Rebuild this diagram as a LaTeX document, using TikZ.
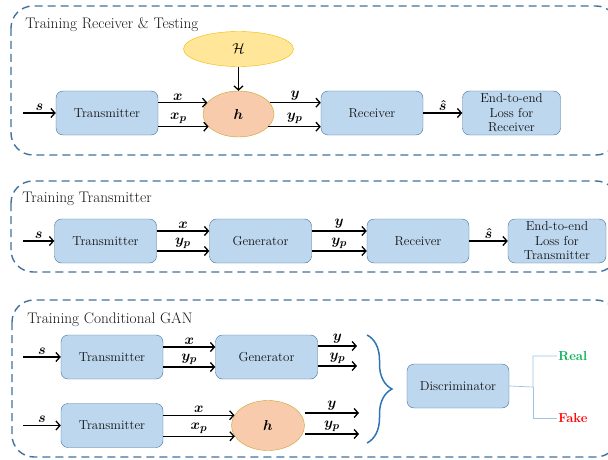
\documentclass[tikz,border=0pt]{standalone}
\usepackage{tikz}
\usetikzlibrary{shapes, arrows, arrows.meta, positioning, decorations.pathreplacing}
\usepackage{amsmath}
\usepackage{bm}

\definecolor{boxfill}{HTML}{BDD7EE}
\definecolor{boxedge}{HTML}{41719C}
\definecolor{boxtext}{HTML}{141414}
\definecolor{hfill}{HTML}{F8CBAD}
\definecolor{hedge}{HTML}{C9A227}
\definecolor{Hfill}{HTML}{FFE699}
\definecolor{Hedge}{HTML}{F2B800}
\definecolor{stageblue}{HTML}{41719C}
\definecolor{braceblue}{HTML}{2E75B6}
\definecolor{branchblue}{HTML}{9DC3E6}
\definecolor{realgreen}{HTML}{00B050}
\definecolor{fakered}{HTML}{FF0000}

\begin{document}
\begin{tikzpicture}[x=1pt, y=-1pt, auto, thick,
    block/.style={draw=boxedge, fill=boxfill, thin, rounded corners=7pt, minimum width=102pt,
        minimum height=44pt, align=center, text=boxtext, inner sep=1pt, font=\fontsize{13}{14.5}\selectfont},
    chan/.style={draw=hedge, fill=hfill, thin, ellipse, minimum width=71pt, minimum height=46pt,
        font=\fontsize{15}{17}\selectfont},
    stage/.style={draw=stageblue, line width=1.4pt, dash pattern=on 8pt off 5pt, rounded corners=22pt},
    stagetitle/.style={anchor=base west, inner sep=0pt, text=boxtext, font=\fontsize{15.3}{18}\selectfont},
    link/.style={->, >={Straight Barb[length=4pt, width=9pt]}, line width=1.3pt},
    lbl/.style={font=\fontsize{15}{17}\selectfont, inner sep=2pt},
    branch/.style={draw=branchblue, line width=0.7pt}]

    \useasboundingbox (0,0) rectangle (608,460);

    % frames
    \draw[stage] (11,6) rectangle (618,155);
    \draw[stage] (11,181) rectangle (618,272);
    \draw[stage] (12,300) rectangle (618,457);
    \node (title1) at (25,29) [stagetitle] {Training Receiver \& Testing};
    \node (title2) at (22,202) [stagetitle] {Training Transmitter};
    \node (title3) at (27,323) [stagetitle] {Training Conditional GAN};

    % receiver & testing
    \node (tx1) at (107,113) [block] {Transmitter};
    \node (h1) [chan, right of=tx1, node distance=131.5pt, yshift=-1pt] {$\boldsymbol{h}$};
    \node (H1) [chan, draw=Hedge, fill=Hfill, above of=h1, node distance=65pt,
        minimum width=110pt, minimum height=35pt] {$\mathcal{H}$};
    \node (rx1) [block, right of=tx1, node distance=265pt] {Receiver};
    \node (end1) [block, right of=rx1, node distance=139.5pt, minimum width=98pt] {End-to-end\\Loss for\\Receiver};
    \coordinate (in1) at (23,113);

    \draw[link] (in1) -- node[above, lbl] {$\boldsymbol{s}$} (tx1);
    \draw[link] (H1) -- (h1);
    \draw[link] (tx1.east |- h1.160) -- node[above, lbl, pos=0.4] {$\boldsymbol{x}$} (h1.160);
    \draw[link] (tx1.east |- h1.203) -- node[above, lbl, pos=0.4] {$\boldsymbol{x_p}$} (h1.203);
    \draw[link] (h1.20) -- node[above, lbl] {$\boldsymbol{y}$} (h1.20 -| rx1.west);
    \draw[link] (h1.337) -- node[above, lbl] {$\boldsymbol{y_p}$} (h1.337 -| rx1.west);
    \draw[link] (rx1) -- node[above, lbl] {$\boldsymbol{\hat{s}}$} (end1);

    % transmitter
    \node (tx2) at (105.5,241) [block] {Transmitter};
    \node (gen2) [block, right of=tx2, node distance=155pt] {Generator};
    \node (rx2) [block, right of=gen2, node distance=157.5pt] {Receiver};
    \node (end2) [block, right of=rx2, node distance=139pt, minimum width=98pt] {End-to-end\\Loss for\\Transmitter};
    \coordinate (in2) at (23,241);

    \draw[link] (in2) -- node[above, lbl] {$\boldsymbol{s}$} (tx2);
    \draw[link] ([yshift=10pt]tx2.east) -- node[above, lbl] {$\boldsymbol{x}$} ([yshift=10pt]tx2.east -| gen2.west);
    \draw[link] ([yshift=-10pt]tx2.east) -- node[above, lbl] {$\boldsymbol{y_p}$} ([yshift=-10pt]tx2.east -| gen2.west);
    \draw[link] ([yshift=10pt]gen2.east) -- node[above, lbl] {$\boldsymbol{y}$} ([yshift=10pt]gen2.east -| rx2.west);
    \draw[link] ([yshift=-10pt]gen2.east) -- node[above, lbl] {$\boldsymbol{y_p}$} ([yshift=-10pt]gen2.east -| rx2.west);
    \draw[link] (rx2) -- node[above, lbl] {$\boldsymbol{\hat{s}}$} (end2);

    % conditional GAN
    \node (tx3) at (112,357) [block] {Transmitter};
    \node (gen3) [block, right of=tx3, node distance=154.5pt] {Generator};
    \node (tx4) at (112,425.5) [block] {Transmitter};
    \node (h4) [chan, right of=tx4, node distance=156pt, minimum width=73pt, minimum height=50pt] {$\boldsymbol{h}$};
    \node (disc) at (458,386) [block] {Discriminator};
    \node (real) at (557,356) [anchor=west, inner sep=1pt, text=realgreen, font=\bfseries\fontsize{13}{15}\selectfont] {Real};
    \node (fake) at (557,418) [anchor=west, inner sep=1pt, text=fakered, font=\bfseries\fontsize{13}{15}\selectfont] {Fake};
    \coordinate (in3) at (23,357);
    \coordinate (in4) at (23,425.5);
    \coordinate (out3a) at (357,346);
    \coordinate (out3b) at (357,366);
    \coordinate (out4a) at (359,413);
    \coordinate (out4b) at (359,434);
    \coordinate (bracetop) at (367,335);
    \coordinate (bracebot) at (367,443);
    \coordinate (split) at (533,387);

    \draw[link] (in3) -- node[above, lbl] {$\boldsymbol{s}$} (tx3);
    \draw[link] ([yshift=10pt]tx3.east) -- node[above, lbl] {$\boldsymbol{x}$} ([yshift=10pt]tx3.east -| gen3.west);
    \draw[link] ([yshift=-10pt]tx3.east) -- node[above, lbl] {$\boldsymbol{y_p}$} ([yshift=-10pt]tx3.east -| gen3.west);
    \draw[link] (gen3.east |- out3a) -- node[above, lbl] {$\boldsymbol{y}$} (out3a);
    \draw[link] (gen3.east |- out3b) -- node[above, lbl] {$\boldsymbol{y_p}$} (out3b);

    \draw[link] (in4) -- node[above, lbl] {$\boldsymbol{s}$} (tx4);
    \draw[link] (tx4.east |- h4.163) -- node[above, lbl] {$\boldsymbol{x}$} (h4.163);
    \draw[link] (tx4.east |- h4.198) -- node[above, lbl] {$\boldsymbol{x_p}$} (h4.198);
    \draw[link] (h4.east |- out4a) -- node[above, lbl] {$\boldsymbol{y}$} (out4a);
    \draw[link] (h4.east |- out4b) -- node[above, lbl] {$\boldsymbol{y_p}$} (out4b);

    \draw[draw=braceblue, line width=1.5pt, decorate, decoration={brace, amplitude=25pt}] (bracetop) -- (bracebot);

    \draw[branch] (disc.east) -- (split) |- (real.west);
    \draw[branch] (split) |- (fake.west);
\end{tikzpicture}
\end{document}
